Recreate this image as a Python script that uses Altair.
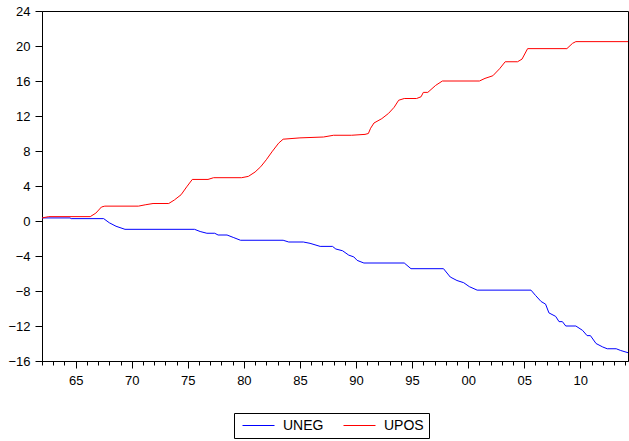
import altair as alt
import pandas as pd

# Cumulative partial sums of positive and negative changes, 1962-2014
upos_year = [1962.0, 1962.6, 1966.3, 1966.8, 1967.3, 1967.6, 1970.6, 1971.2, 1971.9,
             1973.3, 1973.8, 1974.4, 1974.9, 1975.4, 1976.8, 1977.3, 1979.8, 1980.4,
             1981.0, 1981.5, 1982.0, 1982.5, 1983.1, 1983.5, 1985.0, 1987.1, 1988.0,
             1989.6, 1990.8, 1991.1, 1991.3, 1991.6, 1992.3, 1992.9, 1993.4, 1993.8,
             1994.3, 1995.4, 1995.8, 1996.0, 1996.4, 1997.1, 1997.7, 2001.0, 2001.5,
             2002.2, 2002.8, 2003.3, 2004.4, 2004.8, 2005.3, 2008.8, 2009.3, 2009.6,
             2014.25]
upos_value = [0.35, 0.5, 0.5, 0.9, 1.6, 1.7, 1.7, 1.85, 2.0,
              2.0, 2.4, 3.0, 3.9, 4.75, 4.75, 4.95, 4.95, 5.1,
              5.6, 6.2, 7.0, 7.9, 8.9, 9.35, 9.5, 9.6, 9.8,
              9.8, 9.9, 10.0, 10.6, 11.2, 11.7, 12.3, 13.0, 13.8,
              14.0, 14.0, 14.2, 14.7, 14.7, 15.5, 16.0, 16.0, 16.3,
              16.6, 17.4, 18.2, 18.2, 18.5, 19.7, 19.7, 20.3, 20.5,
              20.5]

uneg_year = [1962.0, 1964.5, 1964.6, 1967.5, 1968.0, 1968.6, 1969.4, 1975.6, 1976.1,
             1976.7, 1977.4, 1977.7, 1978.5, 1979.1, 1979.7, 1983.5, 1984.0, 1985.3,
             1985.9, 1986.8, 1987.9, 1988.2, 1988.8, 1989.35, 1989.8, 1990.1, 1990.7,
             1994.3, 1994.9, 1997.8, 1998.4, 1999.0, 1999.6, 2000.1, 2000.8, 2005.6,
             2006.0, 2006.5, 2006.9, 2007.2, 2007.8, 2008.1, 2008.4, 2008.7, 2009.6,
             2010.2, 2010.6, 2010.9, 2011.4, 2012.0, 2012.4, 2013.2, 2013.6, 2014.25]
uneg_value = [0.35, 0.35, 0.27, 0.27, -0.2, -0.6, -0.95, -0.95, -1.2,
              -1.4, -1.4, -1.6, -1.6, -1.9, -2.2, -2.2, -2.4, -2.4,
              -2.55, -2.9, -2.9, -3.2, -3.4, -3.9, -4.1, -4.5, -4.8,
              -4.8, -5.45, -5.45, -6.4, -6.8, -7.05, -7.5, -7.9, -7.9,
              -8.5, -9.2, -9.5, -10.5, -10.9, -11.5, -11.5, -12.0, -12.0,
              -12.5, -13.1, -13.1, -14.0, -14.4, -14.6, -14.6, -14.8, -15.05]

series_names = ["UNEG", "UPOS"]
series_colors = ["#0000FF", "#FF0000"]
title_text = "Negative and Positive Money Shocks"

y_ticks = list(range(-16, 25, 4))
x_ticks = list(range(1962, 2015))

df = pd.concat([
    pd.DataFrame({"year": uneg_year, "value": uneg_value, "series": "UNEG"}),
    pd.DataFrame({"year": upos_year, "value": upos_value, "series": "UPOS"}),
], ignore_index=True)

font = "Liberation Sans"

lines = alt.Chart(df).mark_line(strokeWidth=1).encode(
    x=alt.X("year:Q",
            scale=alt.Scale(domain=[1962, 2014.25], nice=False, zero=False),
            axis=alt.Axis(values=x_ticks, grid=False, title=None,
                          labelExpr="datum.value % 5 == 0 ? slice(toString(datum.value), 2) : ''",
                          tickSize={"condition": {"test": "datum.value % 5 == 0", "value": 7}, "value": 4},
                          labelPadding=6, labelFlush=False, labelOverlap=False)),
    y=alt.Y("value:Q",
            scale=alt.Scale(domain=[-16, 24], nice=False, zero=False),
            axis=alt.Axis(values=y_ticks, grid=False, title=None, tickSize=7,
                          labelPadding=5)),
    color=alt.Color("series:N",
                    scale=alt.Scale(domain=series_names, range=series_colors),
                    legend=alt.Legend(title=None, orient="none", direction="horizontal",
                                      legendX=192, legendY=402,
                                      symbolType="stroke", symbolSize=1024,
                                      symbolStrokeWidth=1, labelFontSize=14,
                                      labelOffset=8, columnPadding=16, padding=5,
                                      symbolOffset=3, clipHeight=15,
                                      strokeColor="black", fillColor="white",
                                      labelFont=font, labelColor="black")),
    order=alt.value(0),
)

# Title sits above the top edge of the page; only its descenders show
title = alt.Chart(pd.DataFrame({"t": [title_text]})).mark_text(
    font="Liberation Serif", fontSize=15, fontWeight="bold", align="left",
    baseline="alphabetic", color="black",
).encode(x=alt.value(126), y=alt.value(-14), text="t:N")

chart = alt.layer(lines, title).properties(
    width=586, height=350,
    autosize=alt.AutoSizeParams(type="none"),
    padding={"left": 42, "top": 11, "right": 1, "bottom": 80},
).configure_view(
    stroke="black", strokeWidth=1,
).configure_axis(
    domainColor="black", tickColor="black", labelColor="black",
    labelFont=font, labelFontSize=13, domainWidth=1, tickWidth=1,
)

chart.save("out.html", embed_options={"renderer": "svg", "actions": False})
